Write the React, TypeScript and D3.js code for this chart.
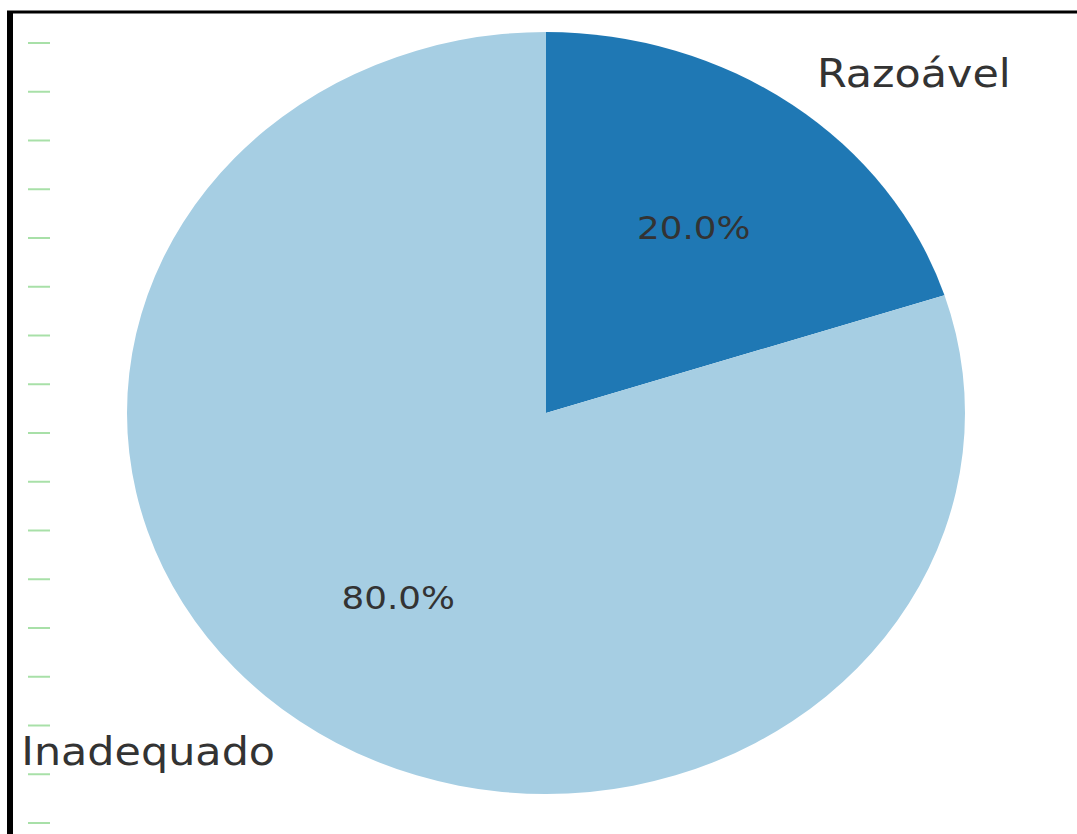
import React from "react";
import * as d3 from "d3";

const categories = ["Razoável", "Inadequado"];
const values = [20, 80];
const colors = ["#1f78b4", "#a6cee3"];
const dashCount = 17;

const W = 1077;
const H = 834;
const cx = 546;
const cy = 413;
const rx = 419;
const ry = 381;
const sx = rx / ry;

export default function App() {
  const pie = d3
    .pie<number>()
    .sort(null)
    .startAngle(0)
    .endAngle(2 * Math.PI)(values);
  const arc = d3.arc<d3.PieArcDatum<number>>().innerRadius(0).outerRadius(ry);
  const total = d3.sum(values);
  const dashY = d3.scaleLinear().domain([0, dashCount - 1]).range([43, 823]);

  return (
    <svg
      width={W}
      height={H}
      style={{ position: "absolute", left: 0, top: 0, background: "#fff" }}
      fontFamily="DejaVu Sans"
    >
      <rect x={0} y={0} width={W} height={H} fill="#fff" />
      {d3.range(dashCount).map((i) => (
        <line
          key={i}
          x1={28}
          x2={50}
          y1={dashY(i)}
          y2={dashY(i)}
          stroke="#a8e0a8"
          strokeWidth={2}
        />
      ))}
      <g transform={`translate(${cx},${cy}) scale(${sx},1)`}>
        {pie.map((d, i) => (
          <path key={i} d={arc(d) || ""} fill={colors[i]} />
        ))}
        {pie.map((d, i) => {
          const mid = (d.startAngle + d.endAngle) / 2;
          const lx = Math.sin(mid) * ry * 1.1;
          const ly = -Math.cos(mid) * ry * 1.1;
          const px = Math.sin(mid) * ry * 0.6;
          const py = -Math.cos(mid) * ry * 0.6;
          const pct = ((d.data / total) * 100).toFixed(1) + "%";
          return (
            <g key={"t" + i}>
              <text
                x={lx}
                y={ly}
                fontSize={39}
                fill="#333"
                textAnchor={lx >= 0 ? "start" : "end"}
                dominantBaseline="central"
              >
                {categories[i]}
              </text>
              <text
                x={px}
                y={py}
                fontSize={32.5}
                fill="#333"
                textAnchor="middle"
                dominantBaseline="central"
              >
                {pct}
              </text>
            </g>
          );
        })}
      </g>
      <line x1={7} x2={W} y1={12} y2={12} stroke="#000" strokeWidth={3} />
      <line x1={10} x2={10} y1={11} y2={H} stroke="#000" strokeWidth={6} />
    </svg>
  );
}
